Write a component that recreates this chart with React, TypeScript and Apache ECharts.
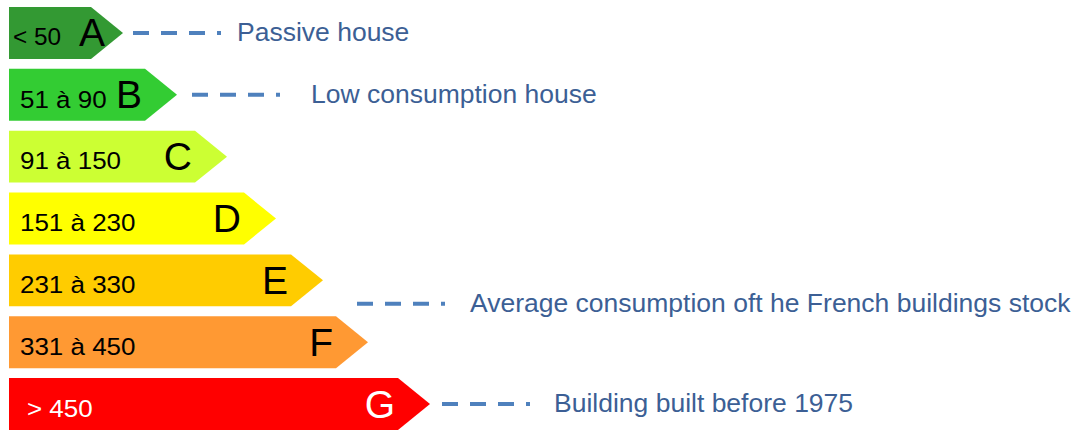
import React, { useEffect, useRef } from "react";
import * as echarts from "echarts";

const categories = ["A", "B", "C", "D", "E", "F", "G"];
const rangeLabels = ["< 50", "51 à 90", "91 à 150", "151 à 230", "231 à 330", "331 à 450", "> 450"];
const barLengths = [114, 168, 218, 267, 314, 359, 421];
const barColors = ["#339933", "#33cc33", "#ccff33", "#ffff00", "#ffcc00", "#ff9933", "#ff0000"];
const textColors = ["#000", "#000", "#000", "#000", "#000", "#000", "#fff"];

const annotationTexts = [
  "Passive house",
  "Low consumption house",
  "Average consumption oft he French buildings stock",
  "Building built before 1975",
];
const annotationRows = [0, 1, 4.38, 6];
const annotationLineStart = [124, 183, 348, 433];
const annotationTextStart = [228, 302, 461, 545];

const FONT = "Liberation Sans, Arial, sans-serif";

export default function App() {
  const ref = useRef<HTMLDivElement>(null);
  useEffect(() => {
    if (!ref.current) return;
    const chart = echarts.init(ref.current, undefined, { renderer: "svg" });
    const barData = barLengths.map((v, i) => [v, i]);
    const annData = annotationRows.map((r, i) => [annotationLineStart[i], r, annotationTextStart[i]]);
    chart.setOption({
      animation: false,
      backgroundColor: "#ffffff",
      grid: { left: 9, top: 2, width: 1069, height: 433, outerBoundsMode: "none" },
      xAxis: { type: "value", min: 0, max: 1069, show: false },
      yAxis: { type: "value", min: -0.5, max: 6.5, inverse: true, show: false },
      series: [
        {
          type: "custom",
          data: barData,
          encode: { x: 0, y: 1 },
          renderItem: (params: any, api: any) => {
            const i = params.dataIndex;
            const tip = api.coord([api.value(0), api.value(1)]);
            const base = api.coord([0, api.value(1)]);
            const band = Math.abs(api.size([0, 1])[1]);
            const h = band * 0.84;
            const yc = tip[1];
            const inset = 32;
            const letterRight = i === 0 ? tip[0] - 18 : tip[0] - 35;
            const labelX = base[0] + (i === 0 ? 4 : i === 6 ? 18 : 11);
            return {
              type: "group",
              children: [
                {
                  type: "polygon",
                  shape: {
                    points: [
                      [base[0], yc - h / 2],
                      [tip[0] - inset, yc - h / 2],
                      [tip[0], yc],
                      [tip[0] - inset, yc + h / 2],
                      [base[0], yc + h / 2],
                    ],
                  },
                  style: { fill: barColors[i] },
                },
                {
                  type: "text",
                  x: labelX,
                  y: yc + 4,
                  scaleX: 1.06,
                  style: {
                    text: rangeLabels[i],
                    fill: textColors[i],
                    font: `${i === 0 ? 23 : 24.5}px ${FONT}`,
                    align: "left",
                    verticalAlign: "middle",
                  },
                },
                {
                  type: "text",
                  x: letterRight,
                  y: yc,
                  style: {
                    text: categories[i],
                    fill: textColors[i],
                    font: `39px ${FONT}`,
                    align: "right",
                    verticalAlign: "middle",
                  },
                },
              ],
            };
          },
        },
        {
          type: "custom",
          data: annData,
          encode: { x: 0, y: 1 },
          renderItem: (params: any, api: any) => {
            const i = params.dataIndex;
            const p = api.coord([api.value(0), api.value(1)]);
            const t = api.coord([api.value(2), api.value(1)]);
            return {
              type: "group",
              children: [
                {
                  type: "line",
                  shape: { x1: p[0], y1: p[1], x2: p[0] + 88, y2: p[1] },
                  style: { stroke: "#4f81bd", lineWidth: 4, lineDash: [16, 12], lineCap: "butt" },
                },
                {
                  type: "text",
                  x: t[0],
                  y: p[1] - 1,
                  style: {
                    text: annotationTexts[i],
                    fill: "#3c5f95",
                    font: `26.5px ${FONT}`,
                    align: "left",
                    verticalAlign: "middle",
                  },
                },
              ],
            };
          },
        },
      ],
    });
    return () => chart.dispose();
  }, []);
  return <div ref={ref} style={{ position: "fixed", left: 0, top: 0, width: 1078, height: 431 }} />;
}
